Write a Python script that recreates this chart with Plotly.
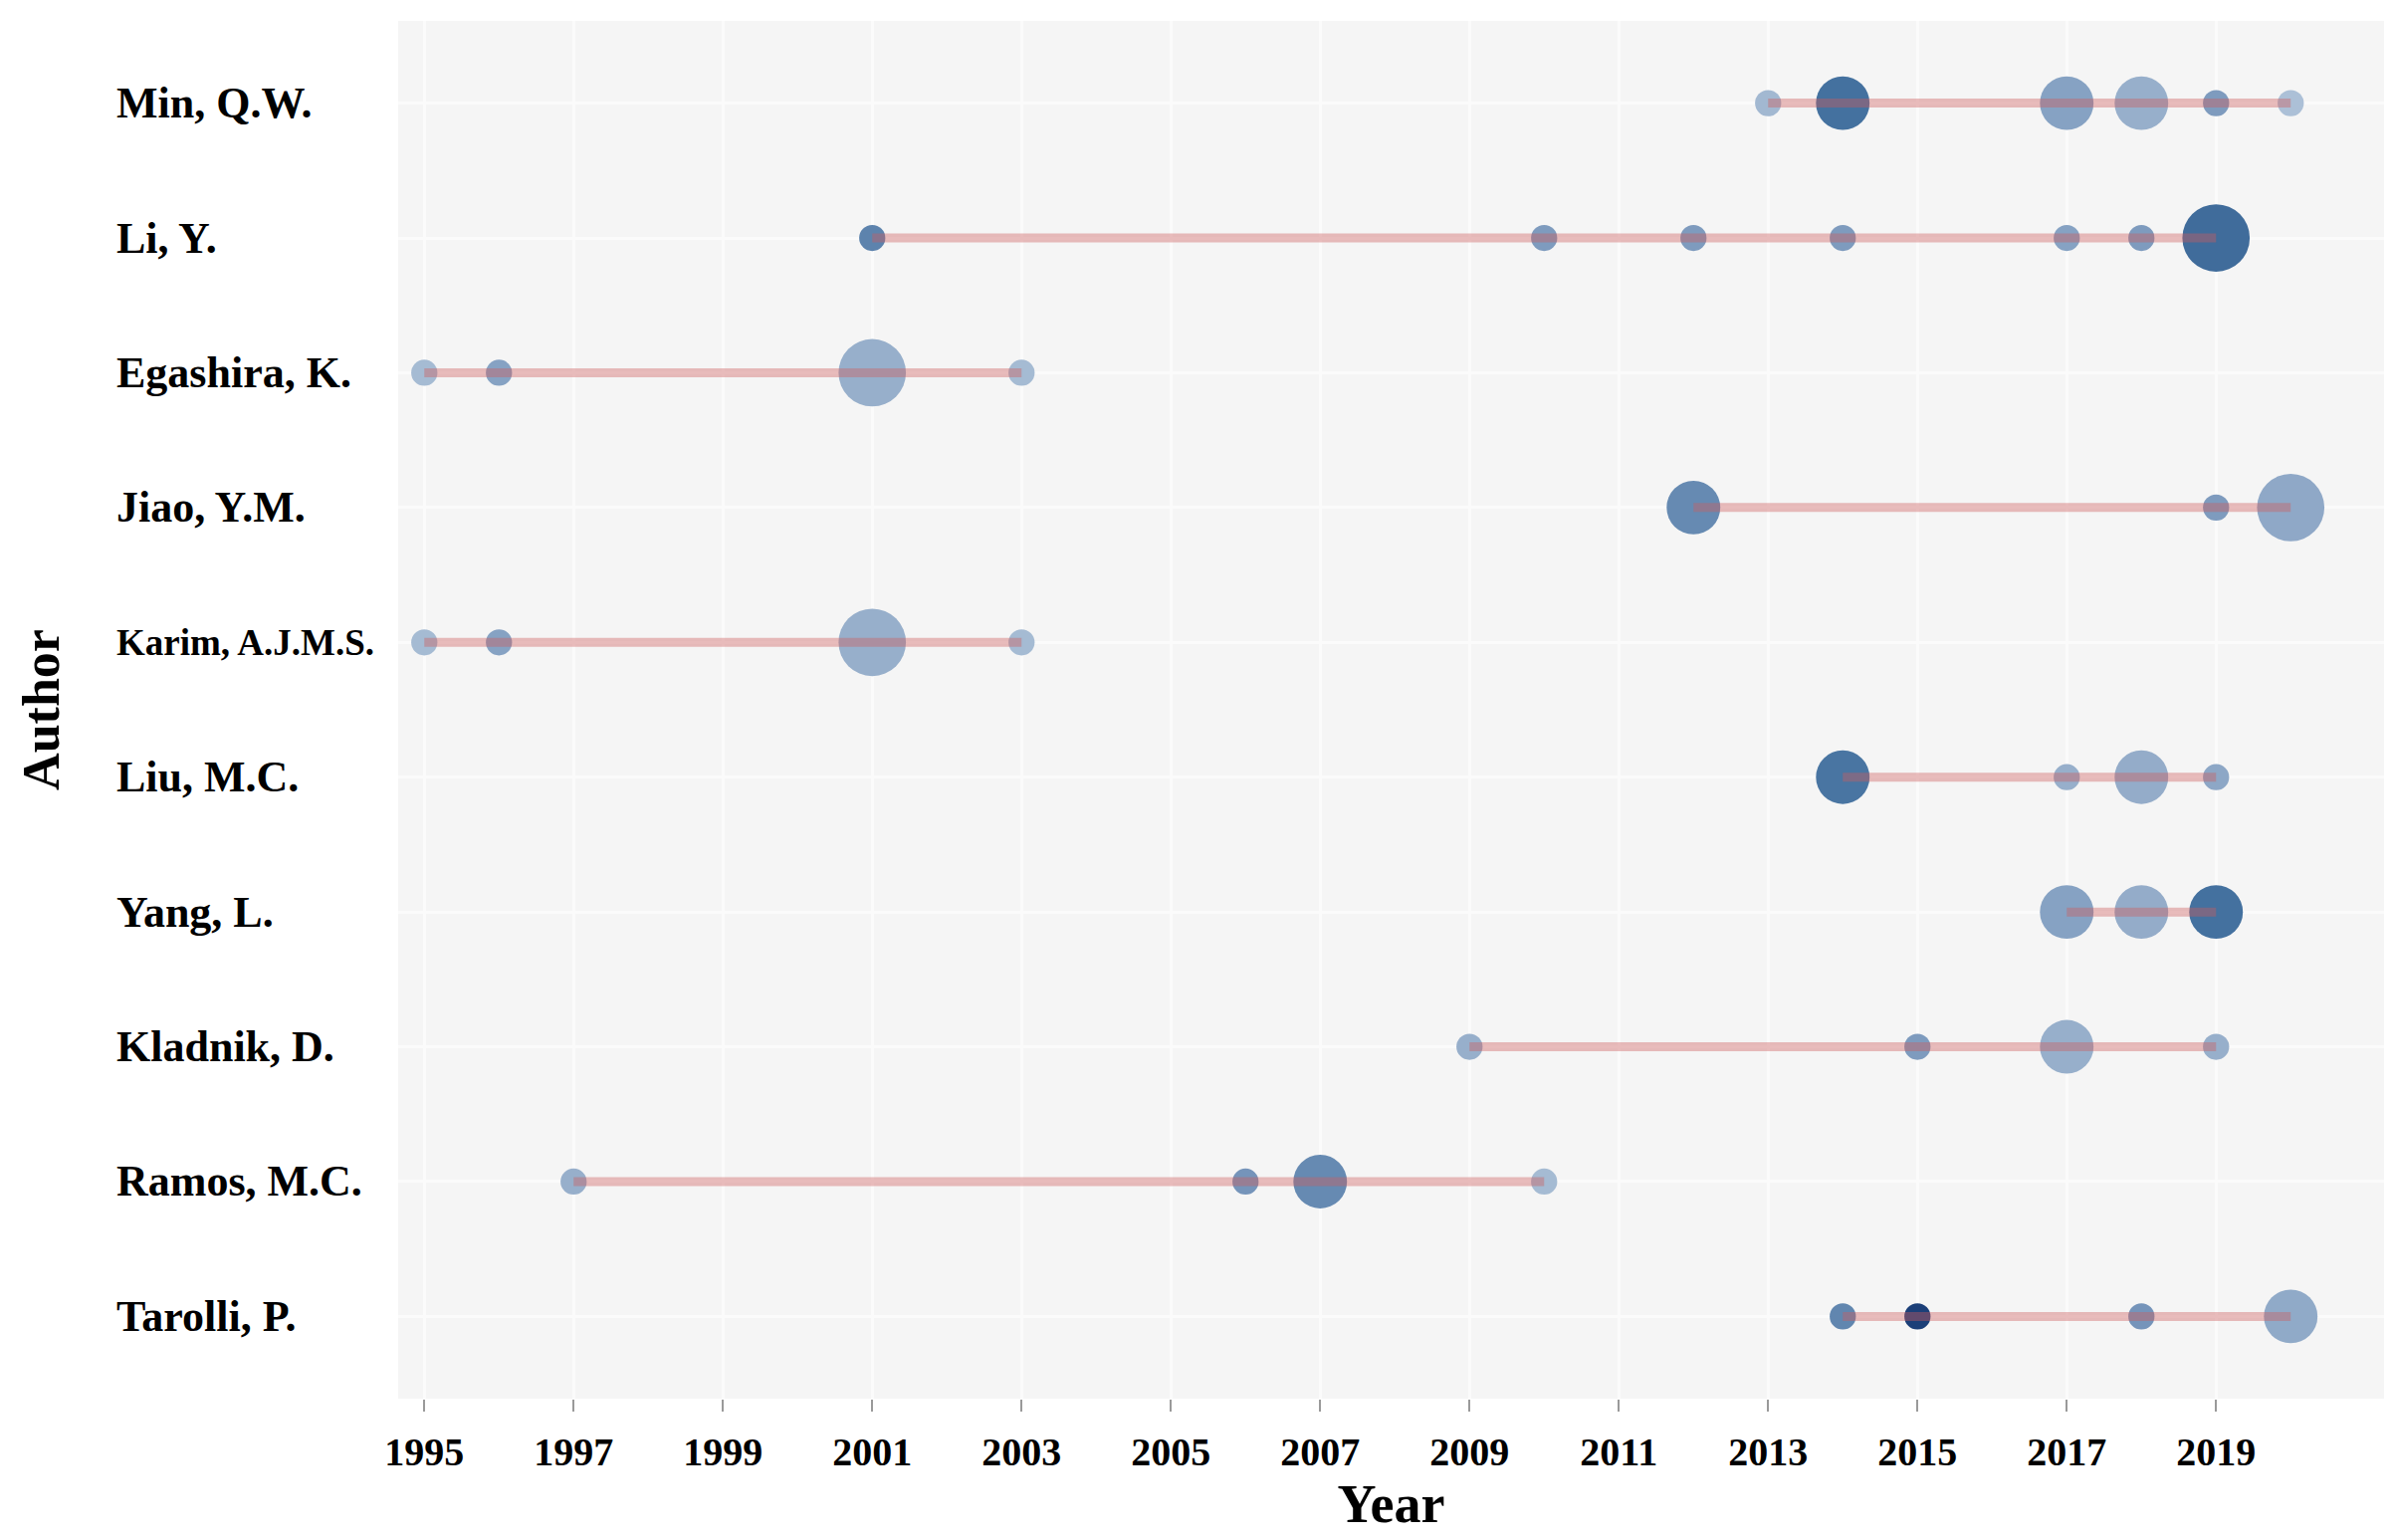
import plotly.graph_objects as go

# ---------------- data ----------------
authors = ["Min, Q.W.", "Li, Y.", "Egashira, K.", "Jiao, Y.M.", "Karim, A.J.M.S.",
           "Liu, M.C.", "Yang, L.", "Kladnik, D.", "Ramos, M.C.", "Tarolli, P."]

years = [
    [2013, 2014, 2017, 2018, 2019, 2020],
    [2001, 2010, 2012, 2014, 2017, 2018, 2019],
    [1995, 1996, 2001, 2003],
    [2012, 2019, 2020],
    [1995, 1996, 2001, 2003],
    [2014, 2017, 2018, 2019],
    [2017, 2018, 2019],
    [2009, 2015, 2017, 2019],
    [1997, 2006, 2007, 2010],
    [2014, 2015, 2018, 2020],
]

# number of articles (bubble size)
articles = [
    [1, 3, 3, 3, 1, 1],
    [1, 1, 1, 1, 1, 1, 4],
    [1, 1, 4, 1],
    [3, 1, 4],
    [1, 1, 4, 1],
    [3, 1, 3, 1],
    [3, 3, 3],
    [1, 1, 3, 1],
    [1, 1, 3, 1],
    [1, 1, 1, 3],
]

# total citations per year (bubble colour)
tc_per_year = [
    [1.2, 6.0, 3.0, 2.0, 3.5, 0.5],
    [5.0, 3.5, 3.5, 3.5, 3.0, 3.5, 6.2],
    [1.0, 3.0, 2.0, 1.0],
    [4.6, 3.5, 2.5],
    [1.0, 3.0, 2.0, 1.0],
    [5.8, 2.0, 2.2, 2.6],
    [3.0, 2.2, 6.0],
    [2.0, 3.5, 2.0, 2.0],
    [2.0, 4.0, 4.6, 1.0],
    [4.8, 8.0, 4.0, 2.4],
]

year_ticks = list(range(1995, 2020, 2))

# ---------------- styling ----------------
FONT = "Liberation Serif"
colorscale = [[0.0, "#b3c6db"], [0.25, "#97afcb"], [0.5, "#7594ba"],
              [0.75, "#44719f"], [1.0, "#1b3f78"]]

def bubble(n):
    return 12.5 + 13.8 * n

fig = go.Figure()

# bubbles
xs, ys, ss, cs = [], [], [], []
for a, yr, ar, tc in zip(authors, years, articles, tc_per_year):
    xs += yr
    ys += [a] * len(yr)
    ss += [bubble(n) for n in ar]
    cs += tc
fig.add_trace(go.Scatter(
    x=xs, y=ys, mode="markers",
    marker=dict(size=ss, color=cs, colorscale=colorscale, cmin=0, cmax=8,
                showscale=False, line=dict(width=0), opacity=1),
    showlegend=False, hoverinfo="x+y"))

# timeline segments (drawn on top)
for a, yr in zip(authors, years):
    fig.add_trace(go.Scatter(
        x=[min(yr), max(yr)], y=[a, a], mode="lines",
        line=dict(color="rgba(205,92,92,0.4)", width=9),
        showlegend=False, hoverinfo="skip"))

# author labels (left aligned)
for a in authors:
    fig.add_annotation(
        x=-0.1428, xref="paper", y=a, yref="y", text=a, showarrow=False,
        xanchor="left", yanchor="middle", yshift=0,
        font=dict(family=FONT, size=37 if a.startswith("Karim") else 44,
                  color="black", weight="bold"))

fig.update_layout(
    width=2403, height=1547,
    margin=dict(l=392, r=16, t=13, b=150),
    paper_bgcolor="white", plot_bgcolor="#f5f5f5",
    font=dict(family=FONT, color="black"),
)

fig.update_xaxes(
    range=[1994.65, 2021.25],
    tickvals=year_ticks, ticktext=[str(y) for y in year_ticks],
    ticks="outside", ticklen=12, tickwidth=2, tickcolor="#9a9a9a",
    ticklabelstandoff=6,
    tickfont=dict(family=FONT, size=40, color="black", weight="bold"),
    showgrid=True, gridcolor="#fbfbfb", gridwidth=3,
    zeroline=False, showline=False,
    title=dict(text="Year", standoff=0,
               font=dict(family=FONT, size=54, color="black", weight="bold")),
)

fig.update_yaxes(
    type="category", categoryorder="array", categoryarray=authors,
    range=[9.61, -0.61],
    showticklabels=False, ticks="",
    showgrid=True, gridcolor="#fbfbfb", gridwidth=3,
    zeroline=False, showline=False, automargin=False,
    title=dict(text="Author", standoff=322,
               font=dict(family=FONT, size=52, color="black", weight="bold")),
)

fig.write_html("out.html")
